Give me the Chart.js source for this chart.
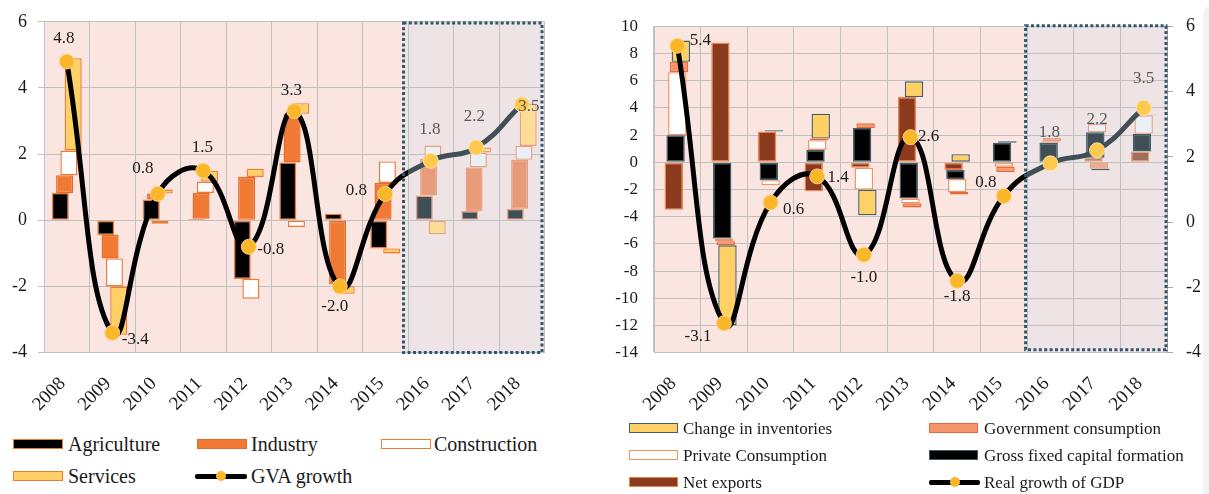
<!DOCTYPE html>
<html>
<head>
<meta charset="utf-8">
<script src="https://cdn.jsdelivr.net/npm/chart.js@4.4.1/dist/chart.umd.min.js"></script>
<style>
  html, body { margin: 0; padding: 0; background: #fff; }
  #wrap { position: relative; width: 1209px; height: 494px; overflow: hidden;
          font-family: "Liberation Serif", "Times New Roman", serif; color: #1a1a1a; }
  .pane { position: absolute; top: 0; }
  .item { position: absolute; white-space: nowrap; line-height: 1; }
  .sw { position: absolute; box-sizing: border-box; }
  #edge { position: absolute; left: 1203px; top: 4px; width: 20px; height: 500px;
          background: #f3f3f3; border-top-left-radius: 12px; }
</style>
</head>
<body>
<div id="wrap">
  <div id="edge"></div>
  <div class="pane" style="left:0;width:600px;height:420px"><canvas id="gva" width="600" height="420"></canvas></div>
  <div class="pane" style="left:600px;width:609px;height:420px"><canvas id="gdp" width="609" height="420"></canvas></div>
  <div id="legend"></div>
</div>
<script>
// ---- data -------------------------------------------------------------
const years = ['2008', '2009', '2010', '2011', '2012', '2013', '2014', '2015', '2016', '2017', '2018'];

// Gross value added growth, contributions by sector (pp)
const agriculture  = [0.83, -0.44, 0.63, 0.05, -1.77, 1.75, 0.20, -0.85, 0.75, 0.28, 0.35];
const industry     = [0.53, -0.71, 0.18, 0.78, 1.31, 1.47, -1.94, 1.13, 1.11, 1.32, 1.48];
const construction = [0.75, -0.85, -0.10, 0.34, -0.60, -0.20, -0.05, 0.65, 0.40, 0.45, 0.42];
const services     = [2.79, -1.46, 0.12, 0.33, 0.25, 0.32, -0.23, -0.15, -0.42, 0.15, 1.27];
const gvaGrowth    = [4.8, -3.4, 0.8, 1.5, -0.8, 3.3, -2.0, 0.8, 1.8, 2.2, 3.5];

// GDP growth, contributions by expenditure component (pp)
const netExports   = [-3.50, 8.80, 2.26, -2.14, -0.40, 4.79, -0.57, 0, 0, 0.33, 0.79];
const grossFixed   = [1.98, -5.60, -1.32, 0.90, 2.52, -2.67, -0.67, 1.43, 1.43, 1.87, 1.30];
const privateCons  = [4.64, -0.20, -0.36, 0.72, -1.62, -0.35, -0.95, -0.33, 0.12, 0.62, 1.36];
const governCons   = [0.76, -0.30, 0, 0.12, 0.34, -0.30, -0.19, -0.38, 0.23, -0.48, 0];
const inventories  = [1.57, -5.90, 0.10, 1.83, -1.88, 1.16, 0.59, 0.12, 0, -0.10, 0.05];
const gdpGrowth    = [5.4, -3.1, 0.6, 1.4, -1.0, 2.6, -1.8, 0.8, 1.8, 2.2, 3.5];

// axis ticks
const gvaTicks   = { min: -4, max: 6, step: 2 };
const gdpTicks   = { min: -14, max: 10, step: 2 };
const gdpRTicks  = { min: -4, max: 6, step: 2 };

// ---- styling ----------------------------------------------------------
const FORECAST_FROM = 8;              // 2016 onwards are projections
const FONT = '"Liberation Serif", "Times New Roman", serif';
const INK = '#1a1a1a';
const GRID = '#c0c0c0';

// stacked pieces: positives build up from zero, negatives build down
function stackRanges(list) {
  const n = list[0].length;
  const up = new Array(n).fill(0), down = new Array(n).fill(0);
  return list.map(s => s.map((v, i) => {
    if (!v) return null;
    if (v > 0) { const r = [up[i], up[i] + v]; up[i] += v; return r; }
    const r = [down[i], down[i] + v]; down[i] += v; return r;
  }));
}

const byPeriod = (past, future) => ctx => ctx.dataIndex >= FORECAST_FROM ? future : past;

function forecastEdge(chart) {
  const xs = chart.scales.x;
  const step = xs.getPixelForValue(1) - xs.getPixelForValue(0);
  return xs.getPixelForValue(FORECAST_FROM) - step / 2;
}

function lineStroke(ctx) {
  const chart = ctx.chart, a = chart.chartArea;
  if (!a || !chart.scales.x) return '#000';
  const edge = forecastEdge(chart);
  const g = chart.ctx.createLinearGradient(a.left, 0, a.right, 0);
  const t = Math.min(1, Math.max(0, (edge - a.left) / (a.right - a.left)));
  g.addColorStop(0, '#000'); g.addColorStop(t, '#000');
  g.addColorStop(t, '#3f4f55'); g.addColorStop(1, '#3f4f55');
  return g;
}

// plot background plus the dotted projection panel
function makePanel(inset) {
  const rect = chart => {
    const a = chart.chartArea;
    const x = forecastEdge(chart) + inset.left;
    const y = a.top + inset.top;
    return { x, y, w: a.right + inset.right - x, h: a.bottom + inset.bottom - y };
  };
  return {
    id: 'panel',
    beforeDraw(chart) {
      const { ctx, chartArea: a } = chart;
      ctx.save();
      ctx.fillStyle = '#fbe5e0';
      ctx.fillRect(a.left, a.top, a.right - a.left, a.bottom - a.top);
      const r = rect(chart);
      ctx.fillStyle = '#efe4e5';
      ctx.fillRect(r.x, r.y, r.w, r.h);
      ctx.restore();
    },
    afterDatasetsDraw(chart) {
      const ctx = chart.ctx, r = rect(chart);
      ctx.save();
      ctx.strokeStyle = '#2d5870';
      ctx.lineWidth = 3;
      ctx.setLineDash([3, 2.4]);
      ctx.strokeRect(r.x, r.y, r.w, r.h);
      ctx.restore();
    }
  };
}

// value labels next to the growth markers
function makeLabels(offsets) {
  return {
    id: 'valueLabels',
    afterDatasetsDraw(chart) {
      const idx = chart.data.datasets.findIndex(d => d.type === 'line');
      const meta = chart.getDatasetMeta(idx);
      const values = chart.data.datasets[idx].data;
      const ctx = chart.ctx;
      ctx.save();
      ctx.font = '17px ' + FONT;
      ctx.textAlign = 'center';
      ctx.textBaseline = 'middle';
      meta.data.forEach((pt, i) => {
        const [dx, dy] = offsets[i];
        ctx.fillStyle = i >= FORECAST_FROM ? '#585858' : INK;
        ctx.fillText(values[i].toFixed(1), pt.x + dx, pt.y + dy);
      });
      ctx.restore();
    }
  };
}

function barSet(label, ranges, past, future) {
  return {
    type: 'bar', label, data: ranges, order: 1,
    backgroundColor: byPeriod(past.fill, future.fill),
    borderColor: byPeriod(past.line, future.line),
    borderWidth: 1.4, borderSkipped: false
  };
}

function growthLine(label, values, axis) {
  return {
    type: 'line', label, data: values, order: 0, yAxisID: axis,
    borderColor: lineStroke, borderWidth: 5, tension: 0.45,
    pointRadius: 7.5, pointBorderWidth: 1,
    pointBackgroundColor: byPeriod('#fbb72a', '#ffc94f'),
    pointBorderColor: byPeriod('rgba(255,214,150,0.9)', 'rgba(255,228,170,0.9)')
  };
}

const xAxis = {
  offset: true,
  grid: { color: GRID, offset: true, drawTicks: false },
  border: { color: GRID },
  ticks: { autoSkip: false, minRotation: 45, maxRotation: 45, padding: 20, labelOffset: -4,
           color: INK, font: { family: FONT, size: 19 } },
  afterFit(s) { s.height = 67.3; }
};

// ---- left: gross value added ------------------------------------------
const [agR, inR, coR, seR] = stackRanges([agriculture, industry, construction, services]);
const edgeOrange = '#ee7a36', edgeSalmon = '#e9a07f';

new Chart(document.getElementById('gva'), {
  data: {
    labels: years,
    datasets: [
      barSet('Agriculture', agR, { fill: '#000', line: edgeOrange }, { fill: '#3f4f55', line: edgeSalmon }),
      barSet('Industry', inR, { fill: '#f07a34', line: '#e56a28' }, { fill: '#e89b7a', line: edgeSalmon }),
      barSet('Construction', coR, { fill: '#ffffff', line: edgeOrange }, { fill: '#eaf1f6', line: edgeSalmon }),
      barSet('Services', seR, { fill: '#ffd066', line: edgeOrange }, { fill: '#fcdd95', line: edgeSalmon }),
      growthLine('GVA growth', gvaGrowth, 'y')
    ]
  },
  options: {
    responsive: false, animation: false, devicePixelRatio: 1, events: [],
    categoryPercentage: 0.378, barPercentage: 3.95,
    layout: { padding: { top: 18.3, right: 55.5, bottom: 0, left: 0 } },
    plugins: { legend: { display: false }, tooltip: { enabled: false } },
    scales: {
      x: xAxis,
      y: {
        min: gvaTicks.min, max: gvaTicks.max,
        ticks: { stepSize: gvaTicks.step, padding: 11, color: INK, font: { family: FONT, size: 18 } },
        grid: { color: GRID, tickLength: 6 },
        border: { color: GRID },
        afterFit(s) { s.width = 44; }
      }
    }
  },
  plugins: [
    makePanel({ left: -4.5, top: 1.2, right: -2.5, bottom: -0.2 }),
    makeLabels([[-3, -23], [23, 7], [-15, -25], [-1, -23], [22, 3], [-3, -21],
                [-5, 20], [-29, -3], [-1, -31], [-2, -31], [7, 2]])
  ]
});

// ---- right: GDP by expenditure ----------------------------------------
const [neR, gfR, prR, goR, ivR] = stackRanges([netExports, grossFixed, privateCons, governCons, inventories]);
const slate = '#3d5f6e';

new Chart(document.getElementById('gdp'), {
  data: {
    labels: years,
    datasets: [
      barSet('Net exports', neR, { fill: '#8b3a1e', line: '#f0824c' }, { fill: '#a06e5c', line: edgeSalmon }),
      barSet('Gross fixed capital formation', gfR, { fill: '#000', line: slate }, { fill: '#3f4f55', line: slate }),
      barSet('Private Consumption', prR, { fill: '#ffffff', line: '#f3915f' }, { fill: '#eaf0f6', line: '#eea080' }),
      barSet('Government consumption', goR, { fill: '#f4956a', line: '#e56c38' }, { fill: '#efa68c', line: edgeSalmon }),
      barSet('Change in inventories', ivR, { fill: '#ffd066', line: slate }, { fill: '#fcdd95', line: slate }),
      growthLine('Real growth of GDP', gdpGrowth, 'y1')
    ]
  },
  options: {
    responsive: false, animation: false, devicePixelRatio: 1, events: [],
    categoryPercentage: 0.188, barPercentage: 10.5,
    layout: { padding: { top: 16.7, right: 0, bottom: 0, left: 0 } },
    plugins: { legend: { display: false }, tooltip: { enabled: false } },
    scales: {
      x: xAxis,
      y: {
        position: 'left', min: gdpTicks.min, max: gdpTicks.max,
        ticks: { stepSize: gdpTicks.step, padding: 16, color: INK, font: { family: FONT, size: 17 } },
        grid: { color: GRID, drawTicks: false },
        border: { color: GRID },
        afterFit(s) { s.width = 54; }
      },
      y1: {
        position: 'right', min: gdpRTicks.min, max: gdpRTicks.max,
        ticks: { stepSize: gdpRTicks.step, padding: 13, color: INK, font: { family: FONT, size: 18 } },
        grid: { drawOnChartArea: false, color: '#a8a8a8', tickLength: 6 },
        border: { color: '#a8a8a8' },
        afterFit(s) { s.width = 42; }
      }
    }
  },
  plugins: [
    makePanel({ left: -1.5, top: -0.5, right: -1, bottom: -3 }),
    makeLabels([[23, -5], [-26, 13], [23, 7], [21, 1], [0, 23], [18, -1],
                [0, 16], [-18, -13], [-1, -31], [0, -31], [0, -29]])
  ]
});

// ---- legends ----------------------------------------------------------
const gvaKeys = [
  { text: 'Agriculture',  fill: '#000',    line: edgeOrange, x: 13,  y: 444, tx: 68 },
  { text: 'Industry',     fill: '#f07a34', line: '#e56a28',  x: 197, y: 444, tx: 251 },
  { text: 'Construction', fill: '#fff',    line: edgeOrange, x: 381, y: 444, tx: 434 },
  { text: 'Services',     fill: '#ffd066', line: edgeOrange, x: 13,  y: 476, tx: 68 },
  { text: 'GVA growth',   marker: true,                      x: 195, y: 476, tx: 251 }
];
const gdpKeys = [
  { text: 'Change in inventories',         fill: '#ffd066', line: slate,     x: 629, y: 428, tx: 683 },
  { text: 'Government consumption',        fill: '#f4956a', line: '#e56c38', x: 929, y: 428, tx: 984 },
  { text: 'Private Consumption',           fill: '#fff',    line: '#f3915f', x: 629, y: 455, tx: 683 },
  { text: 'Gross fixed capital formation', fill: '#000',    line: slate,     x: 929, y: 455, tx: 984 },
  { text: 'Net exports',                   fill: '#8b3a1e', line: '#f0824c', x: 629, y: 482, tx: 683 },
  { text: 'Real growth of GDP',            marker: true,                     x: 929, y: 482, tx: 984 }
];

function drawKeys(keys, size, swW) {
  const host = document.getElementById('legend');
  keys.forEach(k => {
    if (k.marker) {
      const bar = document.createElement('div');
      bar.className = 'sw';
      bar.style.cssText = `left:${k.x}px;top:${k.y - 2.5}px;width:${swW + 2}px;height:5px;background:#000;border-radius:2px`;
      host.appendChild(bar);
      const dot = document.createElement('div');
      dot.className = 'sw';
      dot.style.cssText = `left:${k.x + swW / 2 - 4}px;top:${k.y - 5}px;width:10px;height:10px;background:#fbb72a;border-radius:50%`;
      host.appendChild(dot);
    } else {
      const sw = document.createElement('div');
      sw.className = 'sw';
      sw.style.cssText = `left:${k.x}px;top:${k.y - 5}px;width:${swW}px;height:10px;background:${k.fill};border:1.5px solid ${k.line}`;
      host.appendChild(sw);
    }
    const t = document.createElement('div');
    t.className = 'item';
    t.textContent = k.text;
    t.style.cssText = `left:${k.tx}px;top:${k.y - size * 0.5}px;font-size:${size}px;height:${size}px`;
    host.appendChild(t);
  });
}
drawKeys(gvaKeys, 20, 50);
drawKeys(gdpKeys, 17, 49);
</script>
</body>
</html>
